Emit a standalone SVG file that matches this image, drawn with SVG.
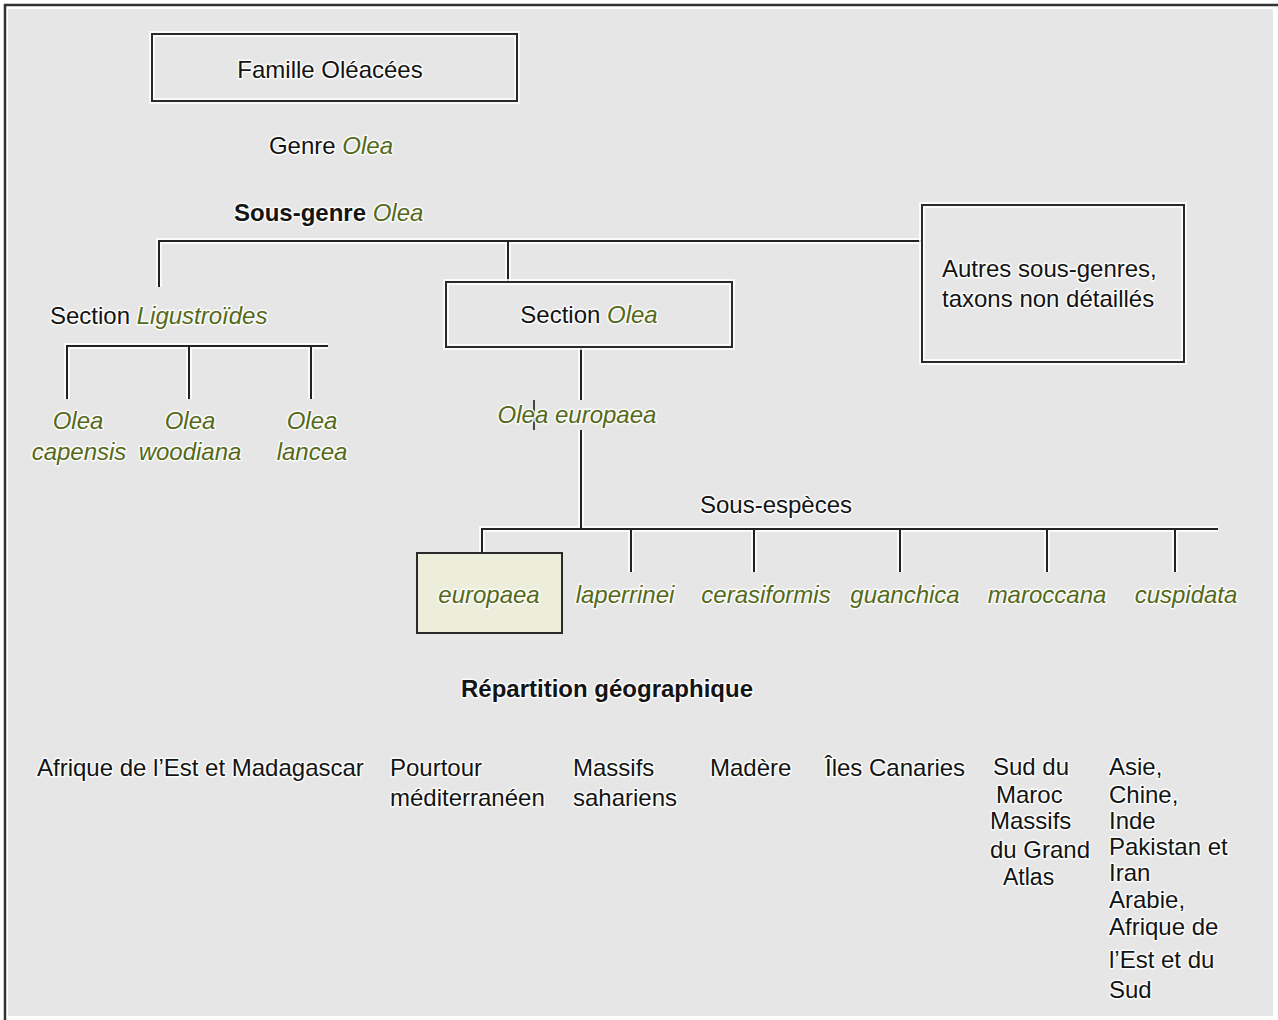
<svg xmlns="http://www.w3.org/2000/svg" width="1278" height="1020" viewBox="0 0 1278 1020">
<defs>
<style>
text{font-family:"Liberation Sans",Arial,sans-serif;font-size:24px;fill:#141414;stroke:#ffffff;stroke-width:3;stroke-opacity:0.85;paint-order:stroke;stroke-linejoin:round}
.g{fill:#55691a;font-style:italic}
.b{font-weight:bold}
.m{text-anchor:middle}
.box{fill:none;stroke:#2a2a2a;stroke-width:2}
.halo{fill:none;stroke:#ffffff;stroke-width:6;opacity:0.8}
.ln{stroke:#222;stroke-width:2;fill:none}
.lnh{stroke:#ffffff;stroke-width:6;fill:none;opacity:0.8}
</style>
</defs>
<rect x="0" y="0" width="1278" height="1020" fill="#ffffff"/>
<rect x="8" y="9" width="1265" height="1007" fill="#e6e6e6"/>
<path d="M5 1020 V5 H1278" fill="none" stroke="#333" stroke-width="2.5"/>

<g id="connectors">
<path class="lnh" d="M159 287 V241 H922 M508 241 V282 M67 399 V346 H328 M189 346 V399 M311 346 V399 M581 347 V400 M581 430 V529 M482 553 V529 H1218 M631 529 V572 M754 529 V572 M900 529 V572 M1047 529 V572 M1175 529 V572"/>
<path class="ln" d="M159 287 V241 H922 M508 241 V282"/>
<path class="ln" d="M67 399 V346 H328 M189 346 V399 M311 346 V399"/>
<path class="ln" d="M581 347 V400 M581 430 V529"/>
<path class="ln" d="M482 553 V529 H1218" stroke-width="2.5"/>
<path class="ln" d="M631 529 V572 M754 529 V572 M900 529 V572 M1047 529 V572 M1175 529 V572"/>
<path d="M534 400 V430" stroke="#111" stroke-width="1.5"/>
</g>

<g id="famille">
<rect class="halo" x="152" y="34" width="365" height="67"/>
<rect class="box" x="152" y="34" width="365" height="67"/>
<text class="m" x="330" y="78">Famille Oléacées</text>
</g>
<g id="genre"><text class="m" x="331" y="154">Genre <tspan class="g">Olea</tspan></text></g>
<g id="sous-genre"><text x="234" y="221"><tspan class="b">Sous-genre</tspan> <tspan class="g">Olea</tspan></text></g>

<g id="section-ligustroides"><text x="50" y="324">Section <tspan class="g">Ligustroïdes</tspan></text></g>
<g id="olea-capensis"><text class="m g" x="78" y="429">Olea</text><text class="m g" x="79" y="460">capensis</text></g>
<g id="olea-woodiana"><text class="m g" x="190" y="429">Olea</text><text class="m g" x="190" y="460">woodiana</text></g>
<g id="olea-lancea"><text class="m g" x="312" y="429">Olea</text><text class="m g" x="312" y="460">lancea</text></g>

<g id="section-olea">
<rect class="halo" x="446" y="282" width="286" height="65"/>
<rect class="box" x="446" y="282" width="286" height="65"/>
<text class="m" x="589" y="323">Section <tspan class="g">Olea</tspan></text>
</g>

<g id="autres">
<rect class="halo" x="922" y="205" width="262" height="157"/>
<rect class="box" x="922" y="205" width="262" height="157"/>
<text x="942" y="277">Autres sous-genres,</text>
<text x="942" y="307">taxons non détaillés</text>
</g>

<g id="olea-europaea"><text class="m g" x="577" y="423">Olea europaea</text></g>
<g id="sous-especes"><text class="m" x="776" y="513">Sous-espèces</text></g>

<g id="europaea">
<rect x="417" y="553" width="145" height="80" fill="#ecedda" stroke="#2a2a2a" stroke-width="2"/>
<text class="m g" x="489" y="603">europaea</text>
</g>
<g id="laperrinei"><text class="m g" x="625" y="603">laperrinei</text></g>
<g id="cerasiformis"><text class="m g" x="766" y="603">cerasiformis</text></g>
<g id="guanchica"><text class="m g" x="905" y="603">guanchica</text></g>
<g id="maroccana"><text class="m g" x="1047" y="603">maroccana</text></g>
<g id="cuspidata"><text class="m g" x="1186" y="603">cuspidata</text></g>

<g id="repartition"><text class="m b" x="607" y="697">Répartition géographique</text></g>

<g id="geo-afrique-est"><text x="37" y="776">Afrique de l’Est et Madagascar</text></g>
<g id="geo-pourtour"><text x="390" y="776">Pourtour</text><text x="390" y="806">méditerranéen</text></g>
<g id="geo-massifs"><text x="573" y="776">Massifs</text><text x="573" y="806">sahariens</text></g>
<g id="geo-madere"><text x="710" y="776">Madère</text></g>
<g id="geo-canaries"><text x="825" y="776">Îles Canaries</text></g>
<g id="geo-sud-maroc">
<text x="993" y="775">Sud du</text>
<text x="996" y="803">Maroc</text>
<text x="990" y="829">Massifs</text>
<text x="990" y="858">du Grand</text>
<text x="1003" y="885" style="font-size:23px">Atlas</text>
</g>
<g id="geo-asie">
<text x="1109" y="775">Asie,</text>
<text x="1109" y="803">Chine,</text>
<text x="1109" y="829">Inde</text>
<text x="1109" y="855">Pakistan et</text>
<text x="1109" y="881">Iran</text>
<text x="1109" y="908">Arabie,</text>
<text x="1109" y="935">Afrique de</text>
<text x="1109" y="968">l’Est et du</text>
<text x="1109" y="998">Sud</text>
</g>
</svg>
